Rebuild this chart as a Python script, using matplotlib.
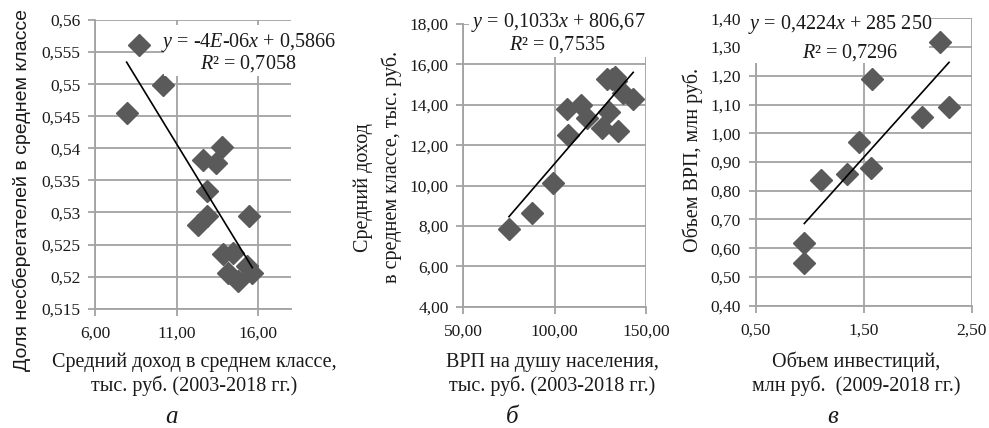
import numpy as np
import matplotlib
matplotlib.use("Agg")
import matplotlib.pyplot as plt
from matplotlib.ticker import FuncFormatter, FixedLocator
from matplotlib.patches import Rectangle

# ---------------- data ----------------
# Panel a: average income in middle class (thous. rub.) vs share of non-savers
a_x = [8.72, 10.19, 7.94, 13.77, 12.61, 13.42, 12.85, 12.85, 12.30, 15.45,
       13.83, 14.49, 14.18, 14.79, 15.34, 15.65]
a_y = [0.5561, 0.5499, 0.5455, 0.5402, 0.5382, 0.5377, 0.5333, 0.5295, 0.5280,
       0.5295, 0.5235, 0.5237, 0.5205, 0.5193, 0.5216, 0.5205]

# Panel b: GRP per capita (thous. rub.) vs average income in middle class
b_x = [75.0, 87.4, 99.2, 106.9, 107.4, 114.2, 117.5, 125.7, 128.8, 129.9,
       133.0, 133.5, 134.8, 137.2, 143.0, 131.5]
b_y = [7.84, 8.63, 10.14, 13.79, 12.50, 13.99, 13.33, 12.84, 15.28, 13.66,
       15.39, 15.18, 12.70, 14.57, 14.29, 15.30]

# Panel c: investment volume vs GRP volume (mln rub.)
c_x = [0.95, 0.95, 1.105, 1.348, 1.459, 1.565, 1.58, 2.037, 2.206, 2.29]
c_y = [0.548, 0.617, 0.837, 0.858, 0.971, 0.878, 1.188, 1.058, 1.319, 1.092]

a_xticks = [6, 11, 16]
a_yticks = [0.515, 0.52, 0.525, 0.53, 0.535, 0.54, 0.545, 0.55, 0.555, 0.56]
b_xticks = [50, 100, 150]
b_yticks = [4, 6, 8, 10, 12, 14, 16, 18]
c_xticks = [0.5, 1.5, 2.5]
c_yticks = [0.4, 0.5, 0.6, 0.7, 0.8, 0.9, 1.0, 1.1, 1.2, 1.3, 1.4]

a_eq = ["$y$ = -4$E$-06$x$ + 0,5866", "$R$² = 0,7058"]
b_eq = ["$y$ = 0,1033$x$ + 806,67", "$R$² = 0,7535"]
c_eq = ["$y$ = 0,4224$x$ + 285 250", "$R$² = 0,7296"]

# ---------------- style ----------------
plt.rcParams['font.family'] = ['Liberation Serif', 'DejaVu Serif']
plt.rcParams['mathtext.fontset'] = 'custom'
plt.rcParams['mathtext.rm'] = 'Liberation Serif'
plt.rcParams['mathtext.it'] = 'Liberation Serif:italic'

W, H = 989, 428
fig = plt.figure(figsize=(W / 100, H / 100), dpi=100)

GRID = '#a3a3a3'
MARK = '#5a5a5a'
TXT = '#1a1a1a'
SERIF = ['Liberation Serif', 'DejaVu Serif']


def px_axes(l, t, r, b):
    return fig.add_axes([l / W, 1 - b / H, (r - l) / W, (b - t) / H])


def general_fmt(v, pos=None):
    s = f"{v:.3f}".rstrip('0').rstrip('.')
    return s.replace('.', ',')


def fixed2(v, pos=None):
    return f"{v:.2f}".replace('.', ',')


def style(ax, xlim, ylim, xticks, yticks, xfmt, yfmt):
    ax.set_xlim(*xlim)
    ax.set_ylim(*ylim)
    ax.xaxis.set_major_locator(FixedLocator(xticks))
    ax.yaxis.set_major_locator(FixedLocator(yticks))
    ax.xaxis.set_major_formatter(FuncFormatter(xfmt))
    ax.yaxis.set_major_formatter(FuncFormatter(yfmt))
    for s in ['top', 'right']:
        ax.spines[s].set_visible(False)
    for s in ['left', 'bottom']:
        ax.spines[s].set_color(GRID)
        ax.spines[s].set_linewidth(1.3)
    ax.grid(True, color=GRID, linewidth=1.3)
    ax.set_axisbelow(True)
    ax.tick_params(direction='out', length=5, width=1.3, color=GRID,
                   labelsize=12.5, labelcolor=TXT)
    ax.tick_params(axis='x', pad=7)
    ax.tick_params(axis='y', pad=5.5)
    for lab in ax.get_xticklabels() + ax.get_yticklabels():
        lab.set_family(SERIF)
    ax.patch.set_alpha(0)


def scatter_trend(ax, x, y):
    x = np.asarray(x)
    y = np.asarray(y)
    ax.plot(x, y, linestyle='none', marker='D', markersize=11,
            color=MARK, markeredgecolor=MARK, zorder=3, clip_on=False)
    k, b0 = np.polyfit(x, y, 1)
    xs = np.array([x.min(), x.max()])
    ax.plot(xs, k * xs + b0, color='black', linewidth=1.2, zorder=4)


def eq(lines, pos1, pos2, box, fs=14.5):
    l, t, r, b = box
    fig.patches.append(Rectangle((l / W, 1 - b / H), (r - l) / W, (b - t) / H,
                                 transform=fig.transFigure, facecolor='white',
                                 edgecolor='none', zorder=5))
    for s, (xp, yp) in zip(lines, [pos1, pos2]):
        fig.text(xp / W, 1 - yp / H, s, ha='center', va='center',
                 fontsize=fs, color=TXT, zorder=10, family=SERIF)


# ---------------- panel a ----------------
axa = px_axes(95, 20, 290.6, 308.7)
style(axa, (6, 18), (0.515, 0.56), a_xticks, a_yticks, fixed2, general_fmt)
scatter_trend(axa, a_x, a_y)
fig.text(22 / W, 1 - 190 / H, "Доля несберегателей в среднем классе",
         rotation=90, ha='center', va='center', fontsize=14,
         family=['Liberation Sans', 'DejaVu Sans'], color=TXT)

# ---------------- panel b ----------------
axb = px_axes(463.3, 24, 646, 306.7)
style(axb, (50, 150), (4, 18), b_xticks, b_yticks, fixed2, fixed2)
scatter_trend(axb, b_x, b_y)
fig.text(363 / W, 1 - 188 / H, "Средний доход", rotation=90,
         ha='center', va='center', fontsize=14.5, color=TXT, family=SERIF)
fig.text(392 / W, 1 - 167 / H, "в среднем классе, тыс. руб.", rotation=90,
         ha='center', va='center', fontsize=14.5, color=TXT, family=SERIF)

# ---------------- panel c ----------------
axc = px_axes(755.7, 18.3, 971.7, 305.7)
style(axc, (0.5, 2.5), (0.4, 1.4), c_xticks, c_yticks, fixed2, fixed2)
scatter_trend(axc, c_x, c_y)
fig.text(693 / W, 1 - 160 / H, "Объем ВРП, млн руб.", rotation=90,
         ha='center', va='center', fontsize=14.5, color=TXT, family=SERIF)

# equation boxes (drawn above the axes so they mask the grid, as in Excel)
eq(a_eq, (249, 43), (248, 64), (164, 25, 336, 76))
eq(b_eq, (558, 22), (557, 45), (469, 4, 650, 57))
eq(c_eq, (840, 25), (850, 53), (746, 8, 929, 63))

# ---------------- x labels & panel letters ----------------
xl = [(194, "Средний доход в среднем классе,", "тыс. руб. (2003-2018 гг.)"),
      (552, "ВРП на душу населения,", "тыс. руб. (2003-2018 гг.)"),
      (856, "Объем инвестиций,", "млн руб.  (2009-2018 гг.)")]
for xc, l1, l2 in xl:
    fig.text(xc / W, 1 - 367 / H, l1, ha='center', va='baseline',
             fontsize=14.5, color=TXT, family=SERIF)
    fig.text(xc / W, 1 - 391 / H, l2, ha='center', va='baseline',
             fontsize=14.5, color=TXT, family=SERIF)

for xc, lt in [(172, "а"), (512, "б"), (833, "в")]:
    fig.text(xc / W, 1 - 423 / H, lt, ha='center', va='baseline',
             fontsize=18, style='italic', color=TXT, family=SERIF)

fig.savefig("out.png", dpi=100)
